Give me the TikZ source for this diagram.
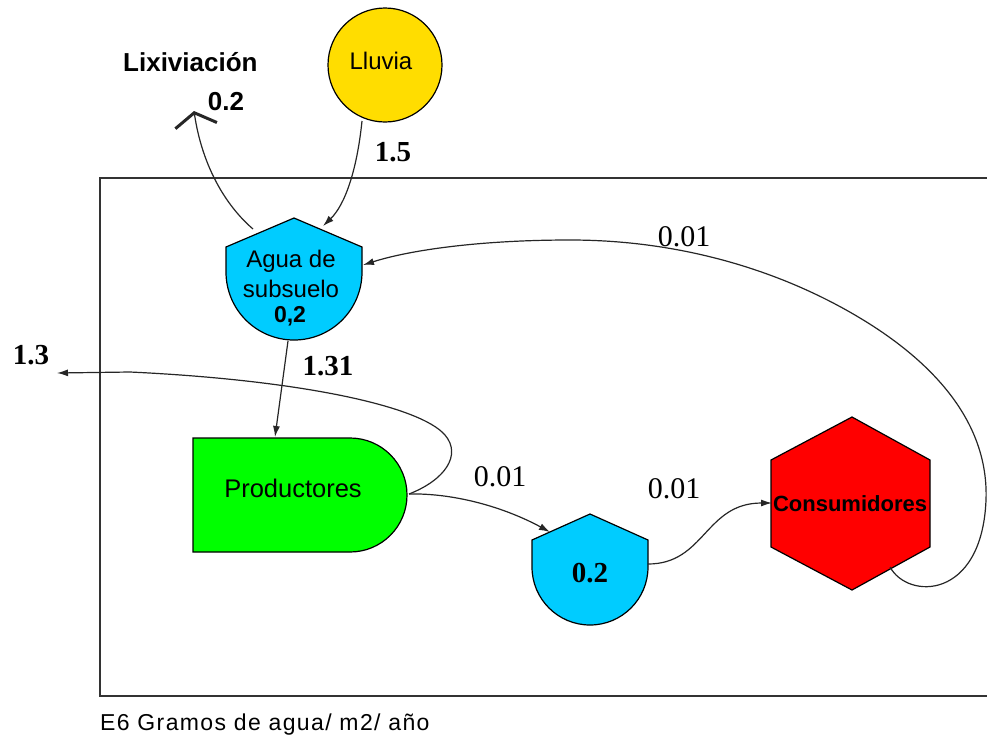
\documentclass[tikz,border=0pt]{standalone}
\usepackage{fontspec}
\setmainfont{Liberation Serif}
\newfontfamily\uisans{Liberation Sans}
\usetikzlibrary{arrows.meta}

\definecolor{rainyellow}{RGB}{255,221,0}
\definecolor{watercyan}{RGB}{0,204,255}
\definecolor{prodgreen}{RGB}{0,255,0}
\definecolor{consred}{RGB}{255,0,0}

\begin{document}
\begin{tikzpicture}[x=1pt,y=-1pt,
  outline/.style={draw=black,line width=1.2pt},
  flow/.style={draw=black!85,line width=1.2pt,-{Latex[length=11pt,width=7pt]}},
  leak/.style={draw=black!85,line width=1.2pt,-{Straight Barb[length=13pt,width=42pt,line width=3pt]}},
  sanstext/.style={font=\uisans\fontsize{24}{28}\selectfont,inner sep=0pt,anchor=base},
  sansbold/.style={font=\uisans\bfseries\fontsize{26}{28}\selectfont,inner sep=0pt},
  numbold/.style={font=\bfseries\fontsize{29}{32}\selectfont,inner sep=0pt},
  numplain/.style={font=\fontsize{30}{32}\selectfont,inner sep=0pt}
]
\useasboundingbox (0,0) rectangle (987,734);

% system boundary
\draw[line width=1.8pt,black!80] (100,178) rectangle (995,696);
\node[font=\uisans\fontsize{23}{26}\selectfont\addfontfeature{LetterSpace=6},
      inner sep=0pt,anchor=base west] (units) at (100,730) {E6 Gramos de agua/ m2/ año};

% rain source
\node[circle,minimum size=114pt,inner sep=0pt,fill=rainyellow,outline] (lluvia) at (385,65) {};
\node[sanstext] (lluviaTxt) at (381,69) {Lluvia};

% groundwater storage
\path[fill=watercyan,outline] (226,272) -- (226,247) -- (294,218) -- (362,247) -- (362,272)
  .. controls (362,309.6) and (331.6,340) .. (294,340)
  .. controls (256.4,340) and (226,309.6) .. (226,272) -- cycle;
\node[sanstext] (aguaTxtA) at (291,267) {Agua de};
\node[sanstext] (aguaTxtB) at (291,297) {subsuelo};
\node[font=\uisans\bfseries\fontsize{23}{26}\selectfont,inner sep=0pt,anchor=base] (aguaVal) at (290,322) {0,2};

% producers
\path[fill=prodgreen,outline] (193,438) -- (350,438)
  .. controls (381.5,438) and (407,463.5) .. (407,495)
  .. controls (407,526.5) and (381.5,552) .. (350,552) -- (193,552) -- cycle;
\node[font=\uisans\fontsize{25.5}{28}\selectfont,inner sep=0pt,anchor=base] (prodTxt) at (293,497) {Productores};

% storage inside the producers' pathway
\path[fill=watercyan,outline] (532,567) -- (532,540) -- (590,514) -- (648,540) -- (648,567)
  .. controls (648,599) and (622,625) .. (590,625)
  .. controls (558,625) and (532,599) .. (532,567) -- cycle;
\node[numbold] (storeVal) at (590,573) {0.2};

% consumers
\path[fill=consred,outline] (852,417) -- (930,460) -- (930,547) -- (852,590) -- (771,547) -- (771,460) -- cycle;
\node[font=\uisans\bfseries\fontsize{22}{26}\selectfont,inner sep=0pt,anchor=base] (consTxt) at (850,511) {Consumidores};

% connector end points on the shapes
\coordinate (lluviaS) at (362,121);
\coordinate (aguaNE) at (323,226);
\coordinate (aguaNW) at (253,229);
\coordinate (aguaS) at (288,341);
\coordinate (aguaE) at (363,265);
\coordinate (prodN) at (275,437);
\coordinate (prodE) at (409,494);
\coordinate (storeNW) at (550,532);
\coordinate (storeE) at (648,564);
\coordinate (consW) at (772,503);
\coordinate (consSE) at (890,567);
\coordinate (leachOut) at (194,111);
\coordinate (exportOut) at (57,373);

% flows
\draw[flow] (lluviaS) .. controls (357,170) and (345,205) .. (aguaNE);
\draw[leak] (aguaNW) .. controls (225,205) and (202,165) .. (leachOut);
\draw[flow] (aguaS) -- (prodN);
\draw[flow] (prodE) .. controls (445,480) and (462,455) .. (445,435)
  .. controls (420,406) and (300,380) .. (130,372) -- (exportOut);
\draw[flow] (prodE) .. controls (450,493) and (500,505) .. (storeNW);
\draw[flow] (storeE) .. controls (705,564) and (705,503) .. (consW);
\draw[flow] (consSE) .. controls (908,600) and (982,600) .. (986,500)
  .. controls (989,420) and (930,360) .. (860,318)
  .. controls (780,270) and (680,240) .. (570,240)
  .. controls (480,240) and (410,250) .. (aguaE);

% labels
\node[sansbold,anchor=base west] (lixTxt) at (123,71) {Lixiviación};
\node[font=\uisans\bfseries\fontsize{26}{28}\selectfont,inner sep=0pt] (lixVal) at (226,102) {0.2};
\node[numbold] (rainVal) at (393,152) {1.5};
\node[numbold] (uptakeVal) at (328,366) {1.31};
\node[numbold] (exportVal) at (31,355) {1.3};
\node[numplain] (toStoreVal) at (500,477) {0.01};
\node[numplain] (toConsVal) at (674,489) {0.01};
\node[numplain] (returnVal) at (684,237) {0.01};
\end{tikzpicture}
\end{document}
